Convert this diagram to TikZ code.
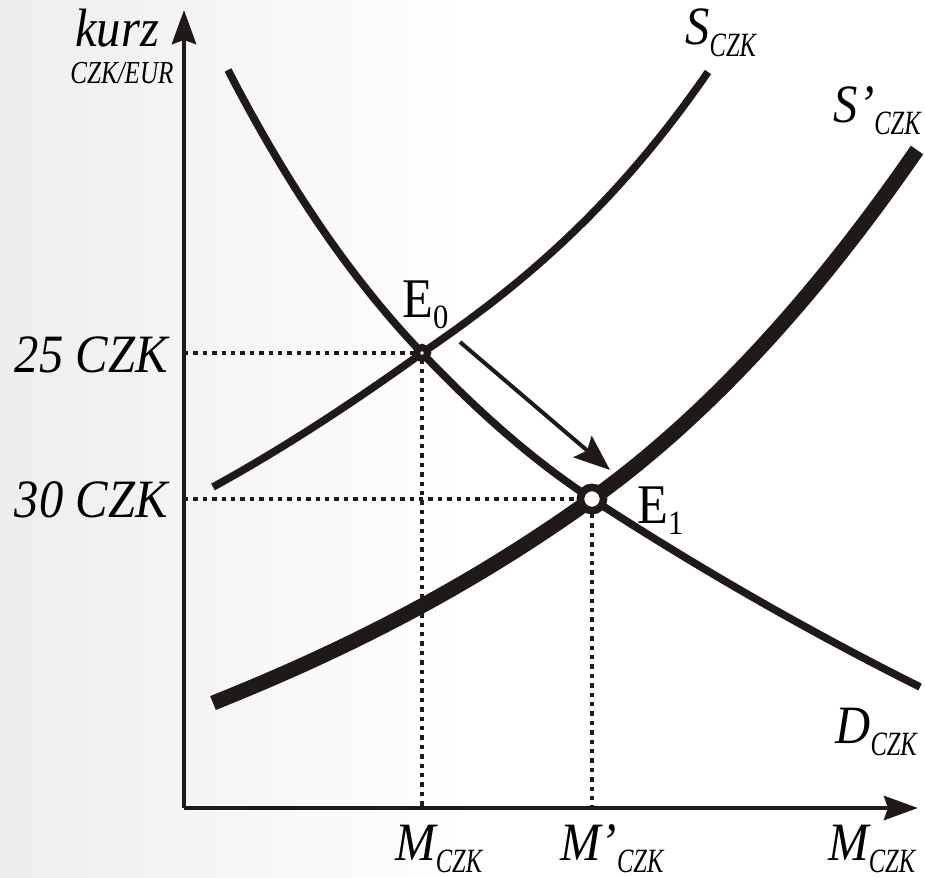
\documentclass[tikz,border=0pt]{standalone}
\usepackage{fontspec}
\usepackage{graphicx}
\setmainfont[FakeStretch=0.9]{Liberation Serif}
\usetikzlibrary{arrows.meta}
\definecolor{ink}{RGB}{31,26,23}
\newcommand{\lsub}[2]{#1\raisebox{-6pt}{\scalebox{0.8}[1]{\fontsize{17}{17}\selectfont #2}}}
\newcommand{\esub}[2]{#1\raisebox{-5.5pt}{\fontsize{17}{17}\selectfont #2}}

\begin{document}
\begin{tikzpicture}[x=0.5pt,y=-0.5pt,
  axis/.style={ink,line width=2.4pt,-{Stealth[length=17pt,width=12pt,inset=2pt]}},
  curve/.style={ink,line width=3.8pt},
  guide/.style={ink,line width=2.2pt,dash pattern=on 2.2pt off 2.5pt},
  lbl/.style={inner sep=0pt,font=\fontsize{27}{27}\selectfont\itshape},
  elbl/.style={inner sep=0pt,font=\fontsize{28}{28}\selectfont}]
  \shade[left color=black!7,right color=white] (0,0) rectangle (470,877);
  \fill[white] (470,0) rectangle (925,877);
  \useasboundingbox (0,0) rectangle (925,877);
  \coordinate (O) at (184,808);
  \coordinate (ytip) at (184,10);
  \coordinate (xtip) at (918,808);
  \coordinate (E0) at (422,353);
  \coordinate (E1) at (592,499);
  \coordinate (A0) at (460,342);
  \coordinate (A1) at (610,470);
  \draw[guide] (O |- E0) -- (E0) -- (E0 |- O);
  \draw[guide] (O |- E1) -- (E1) -- (E1 |- O);
  \draw[curve] (213,487) .. controls (282.7,448.7) and (352.3,403.2) .. (E0)
    .. controls (517.3,288.2) and (612.7,210.2) .. (708,72);
  \draw[curve,line width=7.5pt] (213,703) .. controls (339.3,652.5) and (465.7,589.9) .. (E1)
    .. controls (700.3,421) and (808.7,307) .. (917,150);
  \draw[curve] (228,70) .. controls (292.7,195.5) and (357.3,285.1) .. (E0)
    .. controls (478.7,412.5) and (535.3,462.2) .. (E1)
    .. controls (701.3,570) and (810.7,632.3) .. (920,687);
  \draw[axis] (O) -- (ytip);
  \draw[axis] (O) -- (xtip);
  \draw[ink,line width=2pt,-{Stealth[length=18pt,width=14pt,inset=3pt]}] (A0) -- (A1);
  \draw[ink,line width=3.5pt,fill=white] (E0) circle (2.8pt);
  \draw[ink,line width=3.8pt,fill=white] (E1) circle (5.8pt);
  \node[lbl,anchor=base west] (kurz) at (75,47) {kurz};
  \node[anchor=base west,inner sep=0pt] (unit) at (70,84)
    {\scalebox{0.87}[1]{\fontsize{16}{16}\selectfont\itshape CZK/EUR}};
  \node[lbl,anchor=base east] (p25) at (168,372) {25 CZK};
  \node[lbl,anchor=base east] (p30) at (168,517) {30 CZK};
  \node[lbl,anchor=base west] (S) at (685,45) {\lsub{S}{CZK}};
  \node[lbl,anchor=base east] (S1) at (921,123) {\lsub{S’}{CZK}};
  \node[lbl,anchor=base west] (D) at (835,743) {\lsub{D}{CZK}};
  \node[lbl,anchor=base west] (M0) at (395,860) {\lsub{M}{CZK}};
  \node[lbl,anchor=base west] (M1) at (560,860) {\lsub{M’}{CZK}};
  \node[lbl,anchor=base west] (M) at (828,860) {\lsub{M}{CZK}};
  \node[elbl,anchor=base west] (e0) at (402,317) {\esub{E}{0}};
  \node[elbl,anchor=base west] (e1) at (637,523) {\esub{E}{1}};
\end{tikzpicture}
\end{document}
